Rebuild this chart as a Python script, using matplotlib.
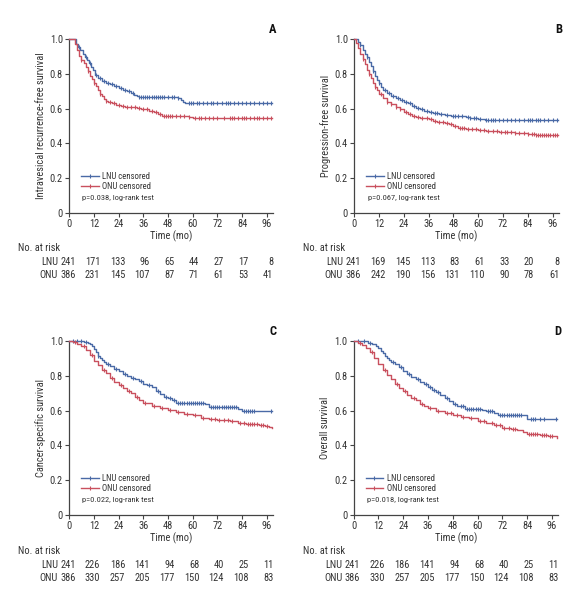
import numpy as np
import matplotlib
matplotlib.use("Agg")
import matplotlib.pyplot as plt
import matplotlib.font_manager as fm
from matplotlib.lines import Line2D
from matplotlib.transforms import blended_transform_factory

_available = {f.name for f in fm.fontManager.ttflist}
_cands = ["Roboto Condensed", "Archivo Narrow", "PT Sans Narrow", "Liberation Sans Narrow"]
FONT = next((f for f in _cands if f in _available), "DejaVu Sans")
plt.rcParams["font.family"] = [FONT, "DejaVu Sans"]

# ---------------------------------------------------------------------------
# data
# ---------------------------------------------------------------------------
TICKS = [0, 12, 24, 36, 48, 60, 72, 84, 96]

A_LNU_T = [0, 3.5, 4.5, 5.5, 6.5, 7.5, 8.5, 9.5, 10.5, 11.5, 12.5, 14, 16, 18, 20, 22, 24,
           26, 28, 30, 31.5, 33, 34, 53, 54.5, 55.5, 56.5, 98.5]
A_LNU_S = [1.0, 0.975, 0.955, 0.935, 0.915, 0.9, 0.88, 0.86, 0.84, 0.82, 0.795, 0.775, 0.76,
           0.75, 0.74, 0.73, 0.72, 0.71, 0.70, 0.69, 0.68, 0.67, 0.665, 0.66, 0.65, 0.64, 0.63, 0.63]
A_LNU_C = [5, 8, 10, 13, 15, 17, 19, 21, 23, 25, 27, 29, 31, 34, 35, 36, 37, 38, 39, 40, 41,
           42, 43, 44, 45, 46, 48, 50, 51, 53, 58, 59, 60, 62, 63, 65, 67, 69, 70, 72, 74, 76,
           77, 78, 80, 82, 84, 86, 88, 90, 92, 94, 96, 98]
A_ONU_T = [0, 3, 4, 5, 6, 7, 8, 9, 10, 11, 12, 13, 14, 15, 16, 17, 18, 19, 21, 23, 25, 27, 29,
           31, 33, 35, 37, 39, 41, 43, 45, 58, 60, 98.5]
A_ONU_S = [1.0, 0.97, 0.935, 0.905, 0.88, 0.86, 0.84, 0.815, 0.79, 0.77, 0.75, 0.73, 0.705,
           0.685, 0.67, 0.655, 0.645, 0.637, 0.63, 0.622, 0.615, 0.612, 0.61, 0.607, 0.603, 0.6,
           0.595, 0.588, 0.578, 0.568, 0.56, 0.553, 0.545, 0.545]
A_ONU_C = [6, 9, 12, 15, 18, 20, 22, 24, 26, 28, 30, 32, 34, 36, 38, 40, 42, 44, 46, 47, 48,
           49, 50, 52, 54, 56, 58, 61, 63, 64, 66, 68, 70, 72, 75, 78, 79, 80, 82, 84, 85, 86,
           88, 90, 91, 92, 94, 96, 98]

B_LNU_T = [0, 2, 3, 4, 5, 6, 7, 8, 9, 10, 11, 12, 13, 14, 16, 18, 20, 22, 24, 26, 28, 30, 32,
           34, 36, 38, 41, 44, 47, 54, 56, 58, 60, 62, 63.5, 98.5]
B_LNU_S = [1.0, 0.985, 0.965, 0.94, 0.915, 0.895, 0.87, 0.845, 0.815, 0.79, 0.765, 0.745,
           0.725, 0.705, 0.69, 0.675, 0.66, 0.65, 0.64, 0.63, 0.615, 0.605, 0.595, 0.585, 0.578,
           0.572, 0.567, 0.562, 0.556, 0.552, 0.548, 0.545, 0.542, 0.538, 0.535, 0.535]
B_LNU_C = [3, 6, 9, 12, 15, 17, 19, 21, 23, 25, 27, 29, 31, 33, 35, 37, 39, 40, 42, 45, 48,
           49, 50, 52, 55, 56, 58, 59, 61, 64, 65, 66, 67, 68, 70, 72, 74, 76, 78, 80, 82, 84,
           85, 86, 88, 89, 90, 92, 94, 96, 98]
B_ONU_T = [0, 1, 2, 3, 4, 5, 6, 7, 8, 9, 10, 11, 12, 14, 16, 18, 20, 22, 24, 26, 28, 30, 32,
           36, 38, 40, 44, 46, 48, 50, 54, 60, 64, 70, 78, 84, 88, 98.5]
B_ONU_S = [1.0, 0.98, 0.95, 0.915, 0.885, 0.855, 0.825, 0.8, 0.775, 0.75, 0.725, 0.705,
           0.685, 0.66, 0.64, 0.625, 0.61, 0.595, 0.58, 0.57, 0.56, 0.55, 0.545, 0.54, 0.53,
           0.52, 0.515, 0.51, 0.50, 0.49, 0.485, 0.478, 0.47, 0.465, 0.46, 0.455, 0.45, 0.45]
B_ONU_C = [4, 7, 10, 13, 16, 18, 20, 22, 25, 27, 29, 31, 33, 35, 37, 39, 41, 43, 45, 47, 49,
           51, 52, 53, 55, 57, 59, 61, 63, 65, 67, 69, 71, 73, 74, 76, 78, 80, 82, 84, 86, 87,
           88, 89, 90, 91, 92, 93, 94, 95, 96, 97, 98]

C_LNU_T = [0, 7, 9, 10, 11, 12, 13, 14, 15, 16, 17, 18, 20, 22, 24, 26, 28, 30, 32, 34, 36,
           38, 40, 42, 44, 46, 48, 50, 52, 66, 68, 82, 84, 98.5]
C_LNU_S = [1.0, 0.995, 0.99, 0.98, 0.97, 0.955, 0.935, 0.915, 0.9, 0.89, 0.88, 0.87, 0.855,
           0.84, 0.825, 0.81, 0.8, 0.79, 0.78, 0.77, 0.755, 0.745, 0.735, 0.715, 0.695, 0.68,
           0.67, 0.66, 0.645, 0.635, 0.622, 0.61, 0.595, 0.595]
C_LNU_C = [2, 4, 6, 8, 14, 19, 23, 27, 31, 35, 39, 43, 47, 49, 51, 53, 54, 55, 56, 57, 58, 59,
           60, 61, 62, 63, 64, 65, 69, 70, 71, 72, 73, 74, 75, 76, 77, 78, 79, 80, 81, 85, 86,
           87, 88, 89, 90, 98]
C_ONU_T = [0, 2, 4, 6, 8, 10, 12, 14, 16, 18, 20, 22, 24, 26, 28, 30, 32, 34, 36, 40, 44, 48,
           52, 56, 60, 64, 68, 72, 78, 82, 86, 92, 95, 97, 98.5]
C_ONU_S = [1.0, 0.995, 0.985, 0.97, 0.95, 0.92, 0.885, 0.86, 0.835, 0.815, 0.79, 0.765, 0.745,
           0.73, 0.715, 0.70, 0.68, 0.66, 0.642, 0.628, 0.615, 0.603, 0.59, 0.58, 0.572, 0.56,
           0.55, 0.545, 0.54, 0.53, 0.522, 0.518, 0.51, 0.505, 0.5]
C_ONU_C = [3, 7, 11, 17, 21, 25, 29, 33, 37, 41, 45, 49, 53, 57, 61, 65, 69, 71, 73, 75, 77,
           79, 83, 85, 87, 88, 89, 90, 91, 93, 94, 96]

D_LNU_T = [0, 4, 7, 9, 11, 12, 13, 14, 15, 16, 17, 18, 20, 22, 24, 26, 28, 30, 32, 34, 36, 38,
           40, 42, 44, 46, 48, 50, 54, 62, 64, 68, 70, 83, 84, 98.5]
D_LNU_S = [1.0, 0.997, 0.99, 0.98, 0.97, 0.96, 0.945, 0.93, 0.915, 0.9, 0.89, 0.88, 0.865,
           0.85, 0.83, 0.81, 0.795, 0.78, 0.765, 0.75, 0.735, 0.72, 0.705, 0.69, 0.675, 0.655,
           0.64, 0.625, 0.61, 0.605, 0.595, 0.585, 0.575, 0.572, 0.552, 0.55]
D_LNU_C = [2, 5, 8, 19, 23, 27, 31, 35, 37, 39, 41, 45, 49, 52, 53, 55, 56, 57, 58, 59, 60, 61,
           65, 66, 67, 71, 72, 73, 74, 75, 76, 77, 78, 79, 80, 81, 86, 87, 88, 90, 92, 98]
D_ONU_T = [0, 2, 4, 6, 8, 10, 12, 14, 16, 18, 20, 22, 24, 26, 28, 30, 32, 34, 36, 40, 44, 48,
           52, 56, 60, 64, 68, 72, 76, 79, 82, 84, 90, 94, 98.5]
D_ONU_S = [1.0, 0.99, 0.975, 0.96, 0.935, 0.9, 0.865, 0.835, 0.805, 0.78, 0.755, 0.73, 0.71,
           0.69, 0.675, 0.66, 0.64, 0.625, 0.612, 0.595, 0.585, 0.577, 0.565, 0.555, 0.542, 0.53,
           0.515, 0.5, 0.494, 0.49, 0.475, 0.465, 0.46, 0.452, 0.442]
D_ONU_C = [3, 9, 15, 21, 25, 29, 33, 37, 41, 45, 47, 50, 53, 57, 61, 63, 67, 69, 71, 73, 75,
           77, 78, 85, 86, 87, 88, 89, 91, 92, 93, 95, 96]

A_RISK_LNU = [241, 171, 133, 96, 65, 44, 27, 17, 8]
A_RISK_ONU = [386, 231, 145, 107, 87, 71, 61, 53, 41]
B_RISK_LNU = [241, 169, 145, 113, 83, 61, 33, 20, 8]
B_RISK_ONU = [386, 242, 190, 156, 131, 110, 90, 78, 61]
C_RISK_LNU = [241, 226, 186, 141, 94, 68, 40, 25, 11]
C_RISK_ONU = [386, 330, 257, 205, 177, 150, 124, 108, 83]
D_RISK_LNU = [241, 226, 186, 141, 94, 68, 40, 25, 11]
D_RISK_ONU = [386, 330, 257, 205, 177, 150, 124, 108, 83]

YLABELS = ["Intravesical recurrence-free survival", "Progression-free survival",
           "Cancer-specific survival", "Overall survival"]
PVALUES = ["0.038", "0.067", "0.022", "0.018"]
LETTERS = ["A", "B", "C", "D"]

# ---------------------------------------------------------------------------
BLUE = "#4a6aa6"
RED = "#c9505e"
TXT = "#333333"
FS = 7.5


def step_at(t, s, x):
    idx = np.searchsorted(np.asarray(t), np.asarray(x), side="right") - 1
    return np.asarray(s)[idx]


def draw_panel(ax, lnu, onu, risk_lnu, risk_onu, ylabel, pval, letter):
    for (t, s, c), col in ((lnu, BLUE), (onu, RED)):
        ax.plot(t, s, drawstyle="steps-post", color=col, lw=1.0, clip_on=False, zorder=3)
        ax.plot(c, step_at(t, s, c), ls="none", marker="|", ms=3.5, mew=0.8,
                color=col, clip_on=False, zorder=3)

    ax.set_xlim(0, 99)
    ax.set_ylim(0, 1.0)
    ax.set_xticks(TICKS)
    ax.set_yticks([0, 0.2, 0.4, 0.6, 0.8, 1.0])
    ax.set_yticklabels(["0", "0.2", "0.4", "0.6", "0.8", "1.0"])
    for sp in ("top", "right"):
        ax.spines[sp].set_visible(False)
    for sp in ("left", "bottom"):
        ax.spines[sp].set_color("#444444")
        ax.spines[sp].set_linewidth(0.9)
    ax.tick_params(direction="out", length=3, width=0.8, colors="#444444",
                   labelsize=FS, labelcolor=TXT, pad=1.5)
    ax.set_xlabel("Time (mo)", fontsize=FS, color=TXT, labelpad=1)
    ax.set_ylabel(ylabel, fontsize=FS, color=TXT, labelpad=3)

    # legend
    handles = [Line2D([], [], color=BLUE, lw=1.0, marker="|", ms=3.5, mew=0.8),
               Line2D([], [], color=RED, lw=1.0, marker="|", ms=3.5, mew=0.8)]
    ax.legend(handles, ["LNU censored", "ONU censored"], loc="upper left",
              bbox_to_anchor=(0.05, 0.245), frameon=False, fontsize=6.3, numpoints=1,
              handlelength=2.0, handletextpad=0.4, labelspacing=0.1, borderpad=0.2,
              borderaxespad=0.0, labelcolor=TXT)
    ax.text(0.065, 0.087, f"p={pval}, log-rank test", transform=ax.transAxes,
            fontsize=6.0, color=TXT, ha="left", va="center")

    ax.text(1.0, 1.055, letter, transform=ax.transAxes, ha="center", va="center",
            fontsize=9, fontweight="bold", color="#111111")

    # number at risk table
    tr = blended_transform_factory(ax.transData, ax.transAxes)
    ax.text(-0.25, -0.205, "No. at risk", transform=ax.transAxes, ha="left", va="center",
            fontsize=FS, color=TXT)
    ax.text(-0.055, -0.287, "LNU", transform=ax.transAxes, ha="right", va="center",
            fontsize=FS, color=TXT)
    ax.text(-0.055, -0.36, "ONU", transform=ax.transAxes, ha="right", va="center",
            fontsize=FS, color=TXT)
    for x, a, b in zip(TICKS, risk_lnu, risk_onu):
        ax.text(x + 3.2, -0.287, str(a), transform=tr, ha="right", va="center",
                fontsize=FS, color=TXT)
        ax.text(x + 3.2, -0.36, str(b), transform=tr, ha="right", va="center",
                fontsize=FS, color=TXT)


fig = plt.figure(figsize=(5.76, 5.94), dpi=100)
fig.patch.set_facecolor("white")

positions = [
    [0.120, 0.642, 0.354, 0.292],
    [0.615, 0.642, 0.355, 0.292],
    [0.120, 0.133, 0.354, 0.293],
    [0.614, 0.133, 0.355, 0.293],
]
curves = [
    ((A_LNU_T, A_LNU_S, A_LNU_C), (A_ONU_T, A_ONU_S, A_ONU_C), A_RISK_LNU, A_RISK_ONU),
    ((B_LNU_T, B_LNU_S, B_LNU_C), (B_ONU_T, B_ONU_S, B_ONU_C), B_RISK_LNU, B_RISK_ONU),
    ((C_LNU_T, C_LNU_S, C_LNU_C), (C_ONU_T, C_ONU_S, C_ONU_C), C_RISK_LNU, C_RISK_ONU),
    ((D_LNU_T, D_LNU_S, D_LNU_C), (D_ONU_T, D_ONU_S, D_ONU_C), D_RISK_LNU, D_RISK_ONU),
]

for i, pos in enumerate(positions):
    ax = fig.add_axes(pos)
    lnu, onu, rl, ro = curves[i]
    draw_panel(ax, lnu, onu, rl, ro, YLABELS[i], PVALUES[i], LETTERS[i])

fig.savefig("out.png", dpi=100)
